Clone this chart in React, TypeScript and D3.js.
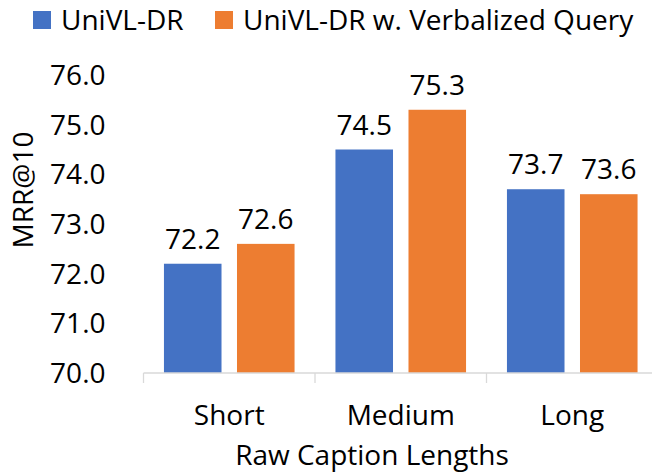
import * as d3 from "d3";
import React from "react";

const categories = ["Short", "Medium", "Long"];
const seriesNames = ["UniVL-DR", "UniVL-DR w. Verbalized Query"];
const univlDr = [72.2, 74.5, 73.7];
const verbalized = [72.6, 75.3, 73.6];
const yTicks = [70, 71, 72, 73, 74, 75, 76];

const colors = ["#4472C4", "#ED7D31"];
const font = "'Open Sans', sans-serif";

const App = () => {
  const width = 652;
  const height = 472;
  const margin = { top: 75, right: -6, bottom: 99, left: 143.5 };
  const innerW = width - margin.left - margin.right;
  const innerH = height - margin.top - margin.bottom;

  const x = d3.scaleBand().domain(categories).range([0, innerW]).paddingInner(0).paddingOuter(0);
  // two bars per category
  const x1 = d3
    .scaleBand()
    .domain(seriesNames)
    .range([0, x.bandwidth()])
    .paddingInner(0.212)
    .paddingOuter(0.28);
  const y = d3.scaleLinear().domain([70, 76]).range([innerH, 0]);

  const series = [univlDr, verbalized];

  return (
    <svg
      width={width}
      height={height}
      style={{ position: "absolute", left: 0, top: 0, background: "#fff" }}
      fontFamily={font}
    >
      {/* legend */}
      <g>
        <rect x={33} y={11} width={18} height={18} fill={colors[0]} />
        <text x={61} y={30} fontSize={28} fill="#000">
          {seriesNames[0]}
        </text>
        <rect x={215} y={11} width={18} height={18} fill={colors[1]} />
        <text x={243} y={30} fontSize={28} fill="#000">
          {seriesNames[1]}
        </text>
      </g>

      <g transform={`translate(${margin.left},${margin.top})`}>
        {/* y tick labels */}
        {yTicks.map((t) => (
          <text
            key={t}
            x={-38}
            y={y(t) + 10}
            textAnchor="end"
            fontSize={28}
            fill="#000"
          >
            {t.toFixed(1)}
          </text>
        ))}

        {/* bars + value labels */}
        {categories.map((c, i) => (
          <g key={c} transform={`translate(${x(c)},0)`}>
            {series.map((s, j) => (
              <g key={j}>
                <rect
                  x={x1(seriesNames[j])}
                  y={y(s[i])}
                  width={x1.bandwidth()}
                  height={innerH - y(s[i])}
                  fill={colors[j]}
                />
                <text
                  x={(x1(seriesNames[j]) as number) + x1.bandwidth() / 2}
                  y={y(s[i]) - 15}
                  textAnchor="middle"
                  fontSize={28}
                  fill="#000"
                >
                  {s[i].toFixed(1)}
                </text>
              </g>
            ))}
          </g>
        ))}

        {/* x axis */}
        <line x1={0} x2={innerW} y1={innerH} y2={innerH} stroke="#d9d9d9" strokeWidth={1.3} />
        {[0, 1, 2, 3].map((k) => {
          const xp = k < 3 ? (x(categories[k]) as number) : innerW;
          return (
            <line key={k} x1={xp} x2={xp} y1={innerH} y2={innerH + 10} stroke="#d9d9d9" strokeWidth={1.3} />
          );
        })}
        {categories.map((c) => (
          <text
            key={c}
            x={(x(c) as number) + x.bandwidth() / 2}
            y={innerH + 52}
            textAnchor="middle"
            fontSize={28}
            fill="#000"
          >
            {c}
          </text>
        ))}
      </g>

      {/* axis titles */}
      <text x={372} y={465} textAnchor="middle" fontSize={28} fill="#000">
        Raw Caption Lengths
      </text>
      <text
        transform="translate(33,190) rotate(-90)"
        textAnchor="middle"
        fontSize={28}
        fill="#000"
      >
        MRR@10
      </text>
    </svg>
  );
};

export default App;
